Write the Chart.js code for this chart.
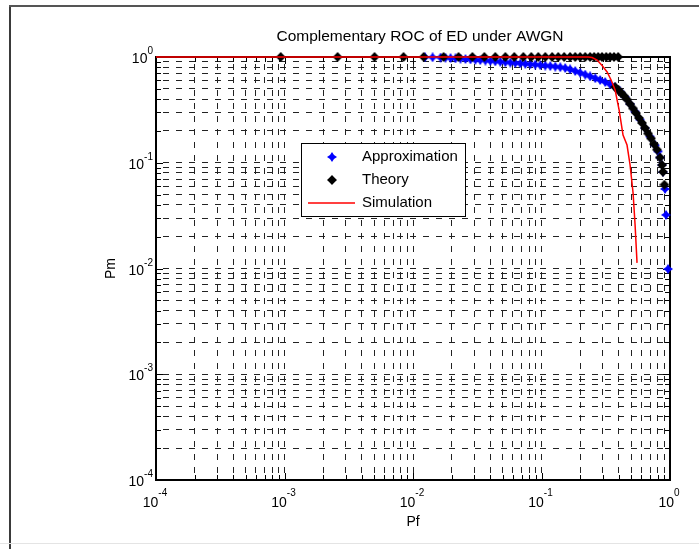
<!DOCTYPE html>
<html>
<head>
<meta charset="utf-8">
<script src="https://cdn.jsdelivr.net/npm/chart.js@4.4.1/dist/chart.umd.min.js"></script>
<style>
  html, body { margin: 0; padding: 0; background: #fff; overflow: hidden; }
  canvas { display: block; }
</style>
</head>
<body>
<canvas id="roc" width="699" height="549"></canvas>
<script>
(function () {
  const FONT = '"Liberation Sans", Arial, Helvetica, sans-serif';
  const TITLE = "Complementary ROC of ED under AWGN";

  // decade ticks, their exponent labels, minor steps inside each decade
  const decades = [1e-4, 1e-3, 1e-2, 1e-1, 1];
  const exponents = ["-4", "-3", "-2", "-1", "0"];
  const minorSteps = [2, 3, 4, 5, 6, 7, 8, 9];

  // Approximation (blue markers)
  const approxPf = [
    0.0124, 0.0142, 0.0164, 0.0179, 0.0196, 0.0214, 0.0234, 0.0256, 0.028,
    0.0306, 0.0334, 0.0366, 0.04, 0.0437, 0.0478, 0.0523, 0.0572, 0.0625,
    0.0684, 0.0748, 0.0818, 0.0894, 0.0978, 0.107, 0.117, 0.128, 0.14, 0.153,
    0.167, 0.183, 0.2, 0.219, 0.239, 0.262, 0.286, 0.313, 0.342, 0.374,
    0.409, 0.447, 0.489, 0.535, 0.585, 0.639, 0.699, 0.765, 0.807, 0.836,
    0.867, 0.882, 0.915, 0.931, 0.965,
  ];
  const approxPm = [
    0.996, 0.993, 0.989, 0.983, 0.976, 0.97, 0.964, 0.957, 0.949,
    0.941, 0.933, 0.925, 0.917, 0.909, 0.901, 0.893, 0.885, 0.878,
    0.87, 0.862, 0.853, 0.846, 0.837, 0.829, 0.82, 0.811, 0.801, 0.787,
    0.765, 0.737, 0.709, 0.682, 0.656, 0.63, 0.606, 0.58, 0.551, 0.52,
    0.472, 0.418, 0.359, 0.305, 0.256, 0.213, 0.177, 0.146, 0.128, 0.112,
    0.0952, 0.0818, 0.0565, 0.0321, 0.00989,
  ];

  // Theory (black markers)
  const theoryPf = [
    0.000935, 0.00259, 0.00502, 0.00844, 0.0121, 0.0173, 0.0226, 0.029,
    0.0359, 0.0437, 0.0523, 0.0614, 0.0722, 0.0833, 0.0944, 0.107, 0.121,
    0.135, 0.15, 0.167, 0.183, 0.2, 0.219, 0.239, 0.257, 0.276, 0.296, 0.319,
    0.342, 0.367, 0.395,
    0.374, 0.395, 0.416, 0.439, 0.463, 0.489, 0.516, 0.544, 0.574, 0.606,
    0.639, 0.675, 0.712, 0.751, 0.793, 0.836, 0.867, 0.882, 0.905,
  ];
  const theoryPm = [
    1, 1, 1, 1, 1, 1, 1, 1,
    1, 1, 1, 1, 1, 1, 1, 1, 1,
    1, 1, 1, 1, 1, 1, 1, 1, 1, 1, 1,
    1, 1, 1,
    0.52, 0.491, 0.461, 0.43, 0.396, 0.359, 0.326, 0.295, 0.265, 0.238,
    0.213, 0.189, 0.17, 0.15, 0.133, 0.112, 0.0952, 0.082, 0.062,
  ];

  // Simulation (red line)
  const simPf = [
    0.0001, 0.231, 0.248, 0.271, 0.296, 0.324, 0.348, 0.374, 0.402, 0.431,
    0.463, 0.489, 0.516, 0.535, 0.554,
  ];
  const simPm = [
    1, 1, 0.989, 0.937, 0.831, 0.721, 0.606, 0.487, 0.315, 0.183,
    0.147, 0.0952, 0.0518, 0.0258, 0.0113,
  ];

  const toPoints = (xs, ys) => xs.map((x, i) => ({ x, y: ys[i] }));

  function makeStar(color, size, k) {
    const c = document.createElement("canvas");
    c.width = size;
    c.height = size;
    const g = c.getContext("2d");
    const h = size / 2;
    const d = size * k;
    g.fillStyle = color;
    g.beginPath();
    g.moveTo(h, 0);
    g.lineTo(h + d, h - d);
    g.lineTo(size, h);
    g.lineTo(h + d, h + d);
    g.lineTo(h, size);
    g.lineTo(h - d, h + d);
    g.lineTo(0, h);
    g.lineTo(h - d, h - d);
    g.closePath();
    g.fill();
    return c;
  }

  const blueStar = makeStar("#0000ff", 10, 0.2);
  const blackStar = makeStar("#000000", 10, 0.24);

  function allTicks() {
    const vals = [];
    decades.forEach((d, i) => {
      vals.push(d);
      if (i < decades.length - 1) minorSteps.forEach((m) => vals.push(d * m));
    });
    return vals;
  }

  const gridOpts = { color: "#222", lineWidth: 1, drawTicks: false };
  const dashOpts = { display: false, dash: [6, 7], dashOffset: 6 };

  // white page, outer frame of the figure
  const framePlugin = {
    id: "frame",
    beforeDraw(chart) {
      const ctx = chart.ctx;
      ctx.save();
      ctx.fillStyle = "#fff";
      ctx.fillRect(0, 0, chart.width, chart.height);
      ctx.fillStyle = "#3a3a3a";
      ctx.fillRect(9, 5, 2, chart.height - 5);
      ctx.fillStyle = "#555";
      ctx.fillRect(9, 5, chart.width - 9, 2);
      ctx.fillStyle = "#e4e4e4";
      ctx.fillRect(0, 543, chart.width, 1);
      ctx.restore();
    },
  };

  // axes box with inward tick marks
  const boxPlugin = {
    id: "box",
    beforeDatasetsDraw(chart) {
      const { ctx, chartArea: a, scales } = chart;
      ctx.save();
      ctx.strokeStyle = "#000";
      ctx.lineWidth = 1;
      ctx.beginPath();
      allTicks().forEach((v) => {
        const len = decades.includes(v) ? 7 : 5;
        const px = Math.round(scales.x.getPixelForValue(v)) + 0.5;
        ctx.moveTo(px, a.bottom);
        ctx.lineTo(px, a.bottom - len);
        ctx.moveTo(px, a.top);
        ctx.lineTo(px, a.top + len);
        const py = Math.round(scales.y.getPixelForValue(v)) + 0.5;
        ctx.moveTo(a.left, py);
        ctx.lineTo(a.left + len, py);
        ctx.moveTo(a.right, py);
        ctx.lineTo(a.right - len, py);
      });
      ctx.stroke();
      ctx.lineWidth = 2;
      ctx.strokeRect(a.left, a.top, a.right - a.left, a.bottom - a.top);
      ctx.restore();
    },
  };

  // title over the plot box, and "10" with a raised exponent for every decade
  const labelPlugin = {
    id: "decadeLabels",
    afterDraw(chart) {
      const { ctx, scales, chartArea: a } = chart;
      ctx.save();
      ctx.fillStyle = "#000";
      ctx.textBaseline = "middle";
      ctx.textAlign = "center";
      ctx.font = "15.5px " + FONT;
      ctx.fillText(TITLE, (a.left + a.right) / 2 + 7, 37);

      ctx.textBaseline = "alphabetic";
      ctx.textAlign = "left";
      decades.forEach((d, i) => {
        ctx.font = "14px " + FONT;
        const w1 = ctx.measureText("10").width;
        ctx.font = "10px " + FONT;
        const w2 = ctx.measureText(exponents[i]).width;

        const px = scales.x.getPixelForValue(d);
        const sx = px - (w1 + w2) / 2 - 1;
        ctx.font = "14px " + FONT;
        ctx.fillText("10", sx, 507);
        ctx.font = "10px " + FONT;
        ctx.fillText(exponents[i], sx + w1, 496);

        const py = scales.y.getPixelForValue(d);
        const sy = 153 - (w1 + w2);
        ctx.font = "14px " + FONT;
        ctx.fillText("10", sy, py + 6);
        ctx.font = "10px " + FONT;
        ctx.fillText(exponents[i], sy + w1, py - 3);
      });
      ctx.restore();
    },
  };

  const legendPlugin = {
    id: "boxLegend",
    afterDatasetsDraw(chart) {
      const ctx = chart.ctx;
      const sets = chart.data.datasets;
      ctx.save();
      ctx.fillStyle = "#fff";
      ctx.fillRect(301, 143, 164, 73);
      ctx.strokeStyle = "#000";
      ctx.lineWidth = 1;
      ctx.strokeRect(301.5, 143.5, 164, 73);
      ctx.font = "15px " + FONT;
      ctx.textBaseline = "middle";
      ctx.fillStyle = "#000";
      const rows = [157, 180, 203];
      sets.forEach((ds, i) => {
        const y = rows[i];
        if (ds.showLine) {
          ctx.strokeStyle = ds.borderColor;
          ctx.lineWidth = ds.borderWidth;
          ctx.beginPath();
          ctx.moveTo(308, y);
          ctx.lineTo(355, y);
          ctx.stroke();
        } else {
          const img = ds.pointStyle;
          ctx.drawImage(img, 332 - img.width / 2, y - img.height / 2);
        }
        ctx.fillText(ds.label, 362, y);
      });
      ctx.restore();
    },
  };

  new Chart(document.getElementById("roc"), {
    type: "scatter",
    data: {
      datasets: [
        {
          label: "Approximation",
          data: toPoints(approxPf, approxPm),
          pointStyle: blueStar,
          pointRadius: 5,
          showLine: false,
          clip: false,
          order: 2,
        },
        {
          label: "Theory",
          data: toPoints(theoryPf, theoryPm),
          pointStyle: blackStar,
          pointRadius: 5,
          showLine: false,
          clip: false,
          order: 1,
        },
        {
          label: "Simulation",
          data: toPoints(simPf, simPm),
          showLine: true,
          borderColor: "#ff0000",
          borderWidth: 1.5,
          pointRadius: 0,
          fill: false,
          clip: false,
          order: 0,
        },
      ],
    },
    options: {
      responsive: false,
      animation: false,
      events: [],
      devicePixelRatio: 1,
      layout: { padding: { left: 0, right: 29, top: 57, bottom: 0 } },
      plugins: {
        legend: { display: false },
        tooltip: { enabled: false },
        title: { display: false },
      },
      scales: {
        x: {
          type: "logarithmic",
          min: 1e-4,
          max: 1,
          grid: gridOpts,
          border: dashOpts,
          ticks: { display: false, autoSkip: false },
          afterBuildTicks(scale) {
            scale.ticks = allTicks().map((v) => ({ value: v }));
          },
          afterFit(scale) {
            scale.height = 69;
          },
          title: {
            display: true,
            text: "Pf",
            color: "#000",
            font: { family: FONT, size: 14 },
            padding: { top: 0, bottom: 18 },
          },
        },
        y: {
          type: "logarithmic",
          min: 1e-4,
          max: 1,
          grid: gridOpts,
          border: dashOpts,
          ticks: { display: false, autoSkip: false },
          afterBuildTicks(scale) {
            scale.ticks = allTicks().map((v) => ({ value: v }));
          },
          afterFit(scale) {
            scale.width = 156;
          },
          title: {
            display: true,
            text: "Pm",
            color: "#000",
            font: { family: FONT, size: 14 },
            padding: { top: 103, bottom: 0 },
          },
        },
      },
    },
    plugins: [framePlugin, boxPlugin, labelPlugin, legendPlugin],
  });
})();
</script>
</body>
</html>
